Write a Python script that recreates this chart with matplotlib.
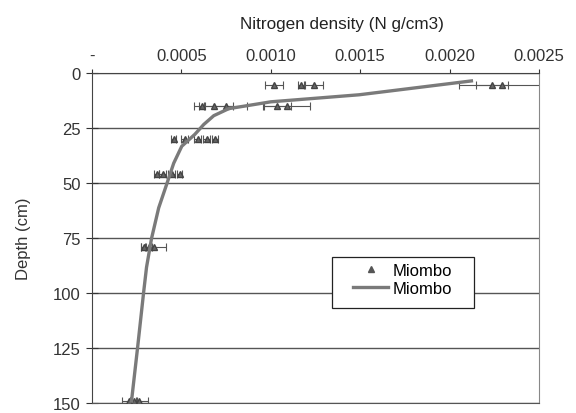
import numpy as np
import matplotlib
matplotlib.use("Agg")
import matplotlib.pyplot as plt
from matplotlib.ticker import FuncFormatter
from matplotlib.lines import Line2D
from matplotlib.patches import Rectangle

plt.rcParams['font.family'] = ['Liberation Sans', 'DejaVu Sans']

# Messpunkte (Dichte, Tiefe, Fehler)
pt_depth = [5.5, 5.5, 5.5, 5.5, 5.5,
            15, 15, 15, 15, 15,
            30, 30, 30, 30, 30,
            46, 46, 46, 46,
            79, 79, 79,
            149, 149, 149]
pt_dens = [0.001017, 0.001169, 0.001241, 0.002239, 0.002295,
           0.000614, 0.000681, 0.000748, 0.001034, 0.001090,
           0.000457, 0.000518, 0.000591, 0.000642, 0.000687,
           0.000362, 0.000395, 0.000446, 0.000490,
           0.000289, 0.000317, 0.000345,
           0.000205, 0.000233, 0.000261]
pt_err = [0.00005, 0.000017, 0.00005, 0.00009, 0.00024,
          0.000017, 0.00011, 0.00012, 0.00008, 0.00013,
          0.000015, 0.00002, 0.00002, 0.00002, 0.000015,
          0.000015, 0.00002, 0.00002, 0.000015,
          0.000015, 0.00002, 0.00007,
          0.00004, 0.00002, 0.00005]

# Ausgleichskurve
line_dens = [0.002122, 0.001494, 0.001000, 0.000765, 0.000681, 0.000625,
             0.000575, 0.000502, 0.000457, 0.000418, 0.000373, 0.000333,
             0.000305, 0.000289, 0.000255, 0.000221]
line_depth = [3.6, 9.9, 13.1, 16.2, 19.4, 23.4, 27.9, 33.3, 41.0, 50.5,
              61.3, 75.2, 88.3, 99.5, 124.8, 149.1]

fig = plt.figure(figsize=(5.76, 4.14), dpi=100)
ax = fig.add_axes([92/576, 1 - 404/414, 447/576, 330/414])

ax.errorbar(pt_dens, pt_depth, xerr=pt_err, fmt='^', color='#555555',
            ms=4.5, mec='#444444', mfc='#666666', ecolor='#555555',
            elinewidth=0.8, capsize=3, capthick=0.8, zorder=3)
ax.plot(line_dens, line_depth, color='#7a7a7a', lw=2.4, zorder=4)

ax.set_xlim(0, 0.0025)
ax.set_ylim(150, 0)
ax.set_xticks(np.arange(0, 0.00251, 0.0005))
ax.set_yticks(np.arange(0, 151, 25))
ax.xaxis.set_major_formatter(FuncFormatter(lambda v, p: '-' if abs(v) < 1e-9 else f'{v:.4f}'))
ax.xaxis.tick_top()
ax.xaxis.set_label_position('top')
ax.tick_params(axis='x', direction='out', length=3, labelsize=12, colors='#333333', pad=4.5)
ax.tick_params(axis='y', direction='inout', length=8, labelsize=12, colors='#333333', pad=4)

ax.set_xlabel('Nitrogen density (N g/cm3)', fontsize=12.3, color='#222222',
              labelpad=14, x=0.559, ha='center')
ax.set_ylabel('Depth (cm)', fontsize=12, color='#333333', labelpad=16)

ax.yaxis.grid(True, color='#555555', lw=1)
ax.set_axisbelow(True)
for s in ['top', 'left']:
    ax.spines[s].set_color('#444444')
ax.spines['right'].set_color('#888888')
ax.spines['bottom'].set_color('#555555')

# Legendenrahmen
ax.add_patch(Rectangle((0.537, 0.288), 0.318, 0.155, transform=ax.transAxes,
                       facecolor='white', edgecolor='#222222', lw=0.9, zorder=5))
handles = [Line2D([], [], ls='none', marker='^', ms=5, color='#555555'),
           Line2D([], [], color='#7a7a7a', lw=2.4)]
leg = ax.legend(handles, ['Miombo', 'Miombo'], loc='upper left',
                bbox_to_anchor=(0.584, 0.425), fontsize=12, frameon=False,
                borderpad=0, handlelength=2.1, labelspacing=0.2,
                handletextpad=0.3, borderaxespad=0)
leg.set_zorder(6)

fig.savefig('out.png', dpi=100)
